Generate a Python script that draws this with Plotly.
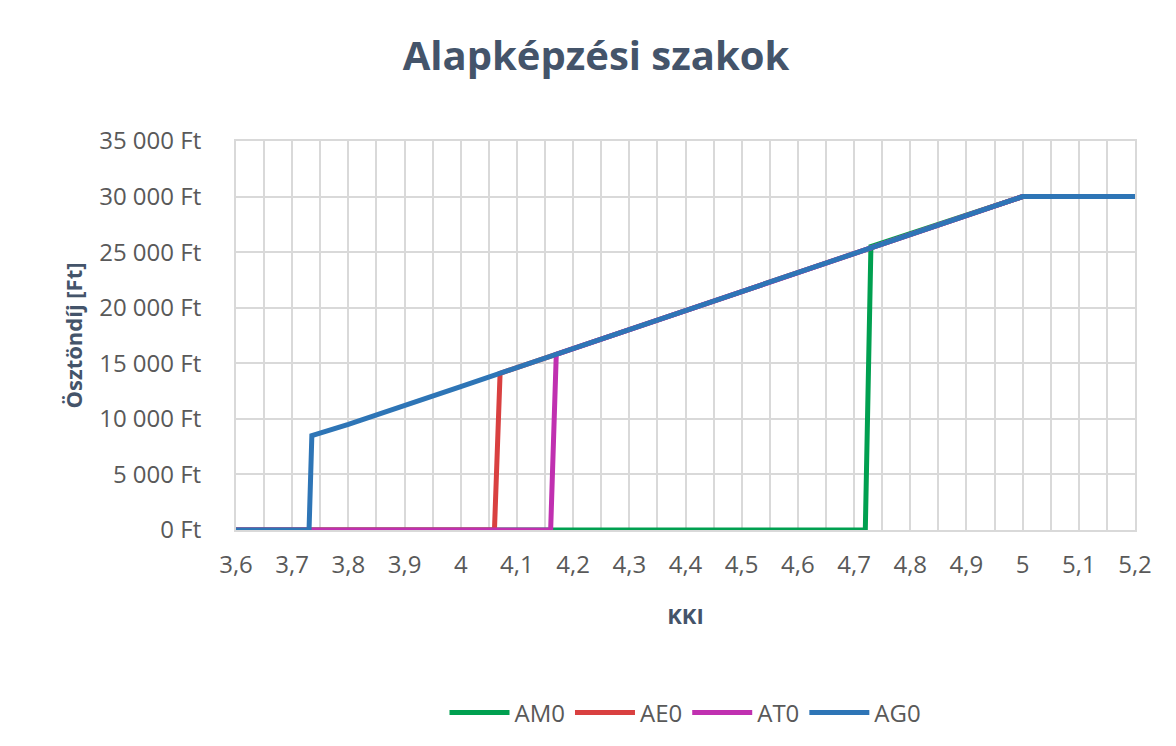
import plotly.graph_objects as go

am0_x = [3.6, 4.72, 4.73, 5.0, 5.2]
am0_y = [0, 0, 25500, 30000, 30000]
ae0_x = [3.6, 4.06, 4.07, 5.0, 5.2]
ae0_y = [0, 0, 14100, 30000, 30000]
at0_x = [3.6, 4.16, 4.17, 5.0, 5.2]
at0_y = [0, 0, 15800, 30000, 30000]
ag0_x = [3.6, 3.73, 3.735, 3.8, 4.0, 4.2, 4.4, 4.6, 4.8, 5.0, 5.2]
ag0_y = [0, 0, 8500, 9500, 12900, 16300, 19700, 23100, 26500, 30000, 30000]

x_ticks = [3.6, 3.7, 3.8, 3.9, 4.0, 4.1, 4.2, 4.3, 4.4, 4.5, 4.6, 4.7, 4.8, 4.9, 5.0, 5.1, 5.2]
x_labels = ["3,6", "3,7", "3,8", "3,9", "4", "4,1", "4,2", "4,3", "4,4", "4,5", "4,6", "4,7", "4,8", "4,9", "5", "5,1", "5,2"]
y_ticks = [0, 5000, 10000, 15000, 20000, 25000, 30000, 35000]
y_labels = ["0 Ft", "5 000 Ft", "10 000 Ft", "15 000 Ft", "20 000 Ft", "25 000 Ft", "30 000 Ft", "35 000 Ft"]

fig = go.Figure()
for name, xs, ys, c in [("AM0", am0_x, am0_y, "#00A050"), ("AE0", ae0_x, ae0_y, "#D94040"),
                        ("AT0", at0_x, at0_y, "#C030B0"), ("AG0", ag0_x, ag0_y, "#2E75B6")]:
    fig.add_trace(go.Scatter(x=xs, y=ys, name=name, mode="lines", line=dict(color=c, width=5)))

tf = dict(family="Open Sans, Calibri, sans-serif", size=24, color="#595959")
fig.update_layout(
    width=1176, height=746, plot_bgcolor="white", paper_bgcolor="white",
    margin=dict(l=228, r=49, t=133, b=224, autoexpand=False),
    title=dict(text="<b>Alapképzési szakok</b>", x=0.5, xanchor="center", y=0.935, yanchor="middle",
               font=dict(family="Open Sans, Calibri, sans-serif", size=40, color="#44546A")),
    font=tf,
    legend=dict(orientation="h", x=0.5, xanchor="center", y=-0.47, yanchor="middle",
                font=dict(size=24, color="#595959"), itemwidth=60, tracegroupgap=30),
    xaxis=dict(range=[3.6, 5.2], tickvals=x_ticks, ticktext=x_labels, showgrid=True,
               gridcolor="#D9D9D9", gridwidth=2, zeroline=False, automargin=False,
               ticklabelstandoff=12,
               minor=dict(dtick=0.05, showgrid=True, gridcolor="#D9D9D9", gridwidth=2),
               title=dict(text="<b>KKI</b>", font=dict(size=22, color="#44546A"), standoff=30),
               ticks="", linecolor="#D9D9D9", linewidth=2, mirror=True),
    yaxis=dict(range=[0, 35000], tickvals=y_ticks, ticktext=y_labels, showgrid=True,
               gridcolor="#D9D9D9", gridwidth=2, zeroline=False, automargin=False,
               ticklabelstandoff=28,
               title=dict(text="<b>Ösztöndíj [Ft]</b>", font=dict(size=22, color="#44546A"), standoff=10),
               ticks="", linecolor="#D9D9D9", linewidth=2, mirror=True),
)
fig.write_html("out.html")
